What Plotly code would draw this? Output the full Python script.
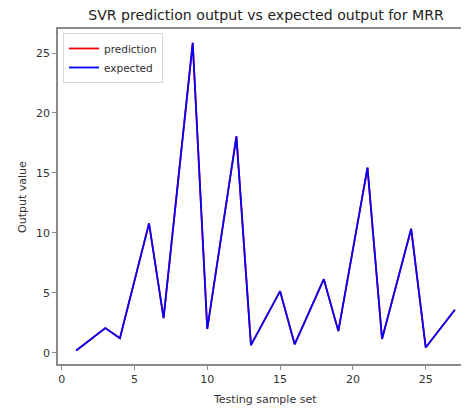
import plotly.graph_objects as go

sample_x = [1, 3, 4, 6, 7, 9, 10, 12, 13, 15, 16, 18, 19, 21, 22, 24, 25, 27]
expected = [0.2, 2.08, 1.22, 10.8, 2.9, 25.85, 2.0, 18.05, 0.65, 5.15, 0.72, 6.15, 1.82, 15.45, 1.17, 10.35, 0.45, 3.6]
prediction = [0.2, 2.08, 1.22, 10.8, 2.9, 25.85, 2.0, 18.05, 0.65, 5.15, 0.72, 6.15, 1.82, 15.45, 1.17, 10.35, 0.45, 3.6]
x_ticks = [0, 5, 10, 15, 20, 25]
y_ticks = [0, 5, 10, 15, 20, 25]

# page body has an 8px margin: the figure starts at (8, 8) in the window
OFF = 8
W, H = 469 - OFF, 408 - OFF
L, T, B = 58 - OFF, 29 - OFF, H - (364 - OFF)
PW, PH = W - L, H - T - B
FONT = "DejaVu Sans"

fig = go.Figure()
fig.add_trace(go.Scatter(x=sample_x, y=prediction, mode="lines", name="prediction",
                         line=dict(color="#ff0000", width=1.8)))
fig.add_trace(go.Scatter(x=sample_x, y=expected, mode="lines", name="expected",
                         line=dict(color="#0000ff", width=1.8)))

def px(xp):
    return (xp - OFF - L) / PW

def py(yp):
    return (H - B - (yp - OFF)) / PH

fig.update_layout(
    width=W, height=H,
    margin=dict(l=L, r=0, t=T, b=B, autoexpand=False),
    paper_bgcolor="white", plot_bgcolor="white",
    font=dict(family=FONT, color="#333333", size=11),
    title=dict(text="SVR prediction output vs expected output for MRR",
               x=(266 - OFF) / W, xanchor="center", y=1 - (15 - OFF) / H, yanchor="middle",
               font=dict(family=FONT, size=14.1, color="#222222")),
    showlegend=True,
    legend=dict(x=px(63), y=py(33), xanchor="left", yanchor="top",
                bgcolor="rgba(255,255,255,0.8)", bordercolor="#d8d8d8", borderwidth=1,
                font=dict(family=FONT, size=10.5, color="#333333"),
                tracegroupgap=0, itemwidth=30),
    xaxis=dict(range=[-0.25, 27.97], tickmode="array", tickvals=x_ticks, automargin=False,
               showgrid=False, zeroline=False, showline=True, mirror=True,
               linecolor="#8a8a8a", linewidth=1.5, ticks="outside", ticklen=4,
               tickcolor="#8a8a8a", tickfont=dict(size=11, color="#333333")),
    yaxis=dict(range=[-0.92, 27.0], tickmode="array", tickvals=y_ticks, automargin=False,
               showgrid=False, zeroline=False, showline=True, mirror=False,
               linecolor="#8a8a8a", linewidth=1.5, ticks="outside", ticklen=4,
               tickcolor="#8a8a8a", tickfont=dict(size=11, color="#333333")),
    annotations=[
        dict(text="Testing sample set", xref="paper", yref="paper",
             x=px(265), y=py(399), xanchor="center", yanchor="middle",
             showarrow=False, font=dict(family=FONT, size=11, color="#333333")),
        dict(text="Output value", xref="paper", yref="paper", textangle=-90,
             x=px(22), y=py(197), xanchor="center", yanchor="middle",
             showarrow=False, font=dict(family=FONT, size=11, color="#333333")),
    ],
)
fig.write_html("out.html")
